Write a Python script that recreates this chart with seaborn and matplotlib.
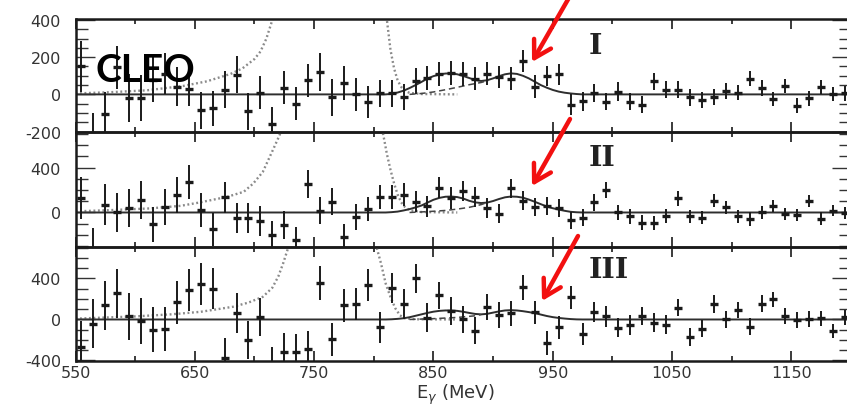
import numpy as np
import matplotlib
matplotlib.use("Agg")
import matplotlib.pyplot as plt
import seaborn as sns
from matplotlib.ticker import FixedLocator, MultipleLocator

sns.set_style("ticks")
plt.rcParams['font.family'] = ['DejaVu Sans']
plt.rcParams['axes.unicode_minus'] = False

# ---------------- data ----------------
energy = np.arange(555, 1200, 10)  # photon-energy bin centres (MeV)

p1_y = [150, -250, -105, 145, -20, -20, 80, 110, 40, 30,
        -85, -75, 25, 105, -90, 10, -160, 35, -50, 75,
        120, -15, 60, 0, -40, 5, 5, -15, 70, 90,
        110, 115, 110, 85, 112, 92, 85, 178, 42, 98,
        108, -55, -38, 8, -40, 15, -40, -55, 70, 25,
        25, -15, -30, -15, 18, 10, 85, 35, -25, 45,
        -60, -20, 40, 0, 5]
p1_err = [135, 150, 120, 115, 130, 125, 120, 110, 105, 95,
          100, 95, 100, 100, 100, 90, 90, 88, 88, 90,
          100, 100, 90, 90, 85, 75, 75, 70, 70, 65,
          65, 65, 65, 60, 60, 60, 60, 60, 60, 55,
          55, 55, 50, 50, 45, 50, 45, 45, 45, 45,
          45, 45, 45, 42, 42, 42, 42, 42, 40, 40,
          40, 40, 40, 38, 38]

p2_y = [130, -330, 70, 0, 40, 110, -105, 50, 155, 270,
        20, -150, 135, -50, -50, -75, -200, -115, -245, 250,
        15, 95, -215, -40, 30, 138, 138, 160, 95, 54,
        222, 130, 193, 138, 42, -10, 215, 105, 50, 60,
        42, -68, -48, 89, 200, 0, -35, -90, -95, -30,
        125, -35, -45, 105, 45, -35, -60, 0, 55, -15,
        -25, 105, -55, 15, -5]
p2_err = [185, 190, 180, 175, 170, 170, 155, 160, 160, 150,
          150, 145, 140, 135, 135, 130, 125, 125, 120, 125,
          120, 120, 115, 115, 110, 105, 105, 100, 95, 95,
          95, 95, 90, 90, 90, 85, 85, 85, 80, 80,
          80, 75, 75, 75, 70, 70, 65, 65, 65, 65,
          65, 60, 60, 60, 60, 60, 60, 55, 55, 55,
          55, 55, 55, 50, 50]

p3_y = [-265, -40, 140, 255, 30, -15, -100, -90, 170, 290,
        350, 300, -380, 60, -200, 20, -450, -315, -315, -285,
        355, -195, 140, 150, 335, -75, 305, 150, 400, 18,
        235, 85, 0, -110, 122, 45, 60, 312, 70, -230,
        -78, 215, -140, 75, 30, -80, -55, 35, -30, -50,
        115, -170, -90, 150, 0, 90, -70, 155, 195, 35,
        -5, 5, 10, -115, 20]
p3_err = [250, 240, 240, 240, 230, 225, 220, 215, 210, 205,
          205, 200, 195, 195, 190, 185, 185, 180, 175, 170,
          165, 160, 160, 155, 155, 150, 145, 145, 140, 140,
          135, 135, 130, 130, 125, 125, 120, 120, 115, 115,
          110, 110, 105, 100, 100, 95, 95, 90, 90, 90,
          85, 85, 85, 85, 80, 80, 80, 80, 75, 75,
          75, 75, 70, 70, 70]

# fitted curves
fit_x = [550, 810, 815, 820, 825, 830, 835, 840, 845, 850, 855, 860, 865, 870,
         875, 880, 885, 890, 895, 900, 905, 910, 915, 920, 925, 930, 935, 940,
         945, 950, 955, 960, 965, 970, 975, 1200]
fit1 = [0, 0, 3, 10, 20, 34, 50, 67, 85, 98, 107, 112, 113, 108, 99, 88, 77, 72,
        76, 86, 98, 108, 113, 110, 100, 86, 68, 50, 36, 24, 15, 9, 5, 2, 0, 0]
fit2 = [0, 0, 3, 8, 18, 30, 45, 62, 88, 113, 130, 140, 142, 137, 124, 104, 90, 84,
        88, 102, 120, 135, 142, 140, 132, 115, 95, 74, 53, 38, 26, 15, 6, 2, 0, 0]
fit3 = [0, 0, 2, 6, 12, 22, 36, 50, 64, 76, 84, 88, 88, 84, 75, 64, 54, 50,
        55, 67, 79, 88, 91, 88, 81, 72, 62, 48, 34, 23, 15, 9, 4, 1, 0, 0]

dash1_x = [830, 840, 850, 860, 870, 880, 890, 896]
dash1 = [0, 5, 13, 25, 38, 52, 64, 75]
dash2_x = [830, 840, 850, 860, 870, 880, 890, 894]
dash2 = [0, 5, 11, 18, 30, 46, 70, 85]
dash3_x = [830, 850, 870, 885, 890]
dash3 = [0, 8, 20, 36, 48]

dotL1_x = [550, 580, 610, 640, 660, 680, 690, 700, 705, 710, 715, 720]
dotL1 = [5, 12, 22, 45, 70, 110, 140, 190, 230, 300, 400, 520]
dotR1_x = [806, 808, 811, 814, 817, 820, 823, 826, 830, 840, 870]
dotR1 = [620, 500, 400, 240, 140, 75, 40, 20, 8, 2, 0]

dotL2_x = [550, 579, 612, 638, 654, 677, 691, 699, 707, 716, 721, 724]
dotL2 = [10, 21, 36, 59, 89, 139, 184, 258, 361, 569, 687, 780]
dotR2_x = [805, 808, 811, 814, 817, 820, 823, 826, 830, 840, 870]
dotR2 = [780, 690, 520, 380, 260, 160, 90, 50, 20, 4, 0]

dotL3_x = [550, 600, 630, 655, 682, 695, 707, 715, 720, 724, 728, 731]
dotL3 = [8, 30, 50, 75, 124, 165, 221, 310, 420, 546, 690, 780]
dotR3_x = [800, 802, 806, 810, 814, 818, 822, 826, 835, 870]
dotR3 = [780, 720, 550, 350, 220, 110, 40, 12, 2, 0]

xticks_major = [550, 650, 750, 850, 950, 1050, 1150]
panel_names = ["I", "II", "III"]

# ---------------- figure ----------------
W, H = 847, 406
fig = plt.figure(figsize=(W / 100, H / 100), dpi=100)

def fx(px):
    return px / W

def fy(py):
    return 1 - py / H

left, right = 75.5, 851.0
panels = [(20, 133), (133, 248), (248, 362)]
axes = []
for top, bot in panels:
    ax = fig.add_axes([fx(left), fy(bot), fx(right - left), (bot - top) / H])
    axes.append(ax)

ylims = [(-202, 405), (-307, 716), (-405, 707)]
ymajor = [[-200, 0, 200, 400], [0, 400], [-400, 0, 400]]
yminor = [50, 100, 100]
ys = [p1_y, p2_y, p3_y]
errs = [p1_err, p2_err, p3_err]
fits = [fit1, fit2, fit3]
dashes_ = [(dash1_x, dash1), (dash2_x, dash2), (dash3_x, dash3)]
dotsL = [(dotL1_x, dotL1), (dotL2_x, dotL2), (dotL3_x, dotL3)]
dotsR = [(dotR1_x, dotR1), (dotR2_x, dotR2), (dotR3_x, dotR3)]
name_base = [54, 166, 278]

ink = '#1a1a1a'
for i, ax in enumerate(axes):
    # dotted background curves
    for (dx, dy) in (dotsL[i], dotsR[i]):
        sns.lineplot(x=dx, y=dy, ax=ax, color='#8a8a8a', lw=1.7,
                     linestyle=(0, (0.8, 1.1)), zorder=1, sort=False)
    # full fit (solid) and partial (dashed)
    sns.lineplot(x=fit_x, y=fits[i], ax=ax, color='#2e2e2e', lw=1.4, zorder=2, sort=False)
    sns.lineplot(x=dashes_[i][0], y=dashes_[i][1], ax=ax, color='#444444', lw=1.1,
                 linestyle=(0, (4, 2.5)), zorder=2, sort=False)
    # data points with errors
    ax.errorbar(energy, ys[i], yerr=errs[i], fmt='_', color=ink, ecolor=ink,
                elinewidth=1.4, ms=5.2, mew=2.4, capsize=0, zorder=3)

    ax.set_xlim(550, 1200)
    ax.set_ylim(*ylims[i])
    ax.xaxis.set_major_locator(FixedLocator(xticks_major))
    ax.xaxis.set_minor_locator(MultipleLocator(50))
    ax.yaxis.set_major_locator(FixedLocator(ymajor[i]))
    ax.yaxis.set_minor_locator(MultipleLocator(yminor[i]))
    ax.tick_params(axis='x', which='both', direction='in', top=True, bottom=True,
                   color=ink, width=1.2)
    ax.tick_params(axis='x', which='major', length=7, pad=3)
    ax.tick_params(axis='x', which='minor', length=3.6)
    ax.tick_params(axis='y', which='both', direction='in', left=True, right=True,
                   color='#333', width=1.0)
    ax.tick_params(axis='y', which='major', length=14, pad=10.5)
    ax.tick_params(axis='y', which='minor', length=8.5)
    ax.tick_params(axis='both', labelsize=11.5, labelcolor='#333')
    for s in ax.spines.values():
        s.set_linewidth(1.8)
        s.set_color(ink)
    ax.set_xlabel('')
    ax.set_ylabel('')
    if i < 2:
        ax.tick_params(axis='x', labelbottom=False)
    ax.patch.set_alpha(0)

    fig.text(fx(589), fy(name_base[i]), panel_names[i], family='DejaVu Serif',
             fontweight='bold', fontsize=20.5, color='#222', ha='left', va='baseline')

axes[2].set_xlabel(r'E$_\gamma$ (MeV)', fontsize=13, color='#333')
axes[2].xaxis.set_label_coords((455 - left) / (right - left), -0.185)

fig.text(fx(145), fy(82), 'CLEO', family='Lato', fontweight='bold', fontsize=28,
         color='black', ha='center', va='baseline')

# red arrows pointing at the 920 MeV peak
overlay = fig.add_axes([0, 0, 1, 1])
overlay.set_xlim(0, W)
overlay.set_ylim(H, 0)
overlay.axis('off')
arrow_tips = [(532, 63), (532, 187), (542, 302)]
arrow_tails = [(574, -10), (570, 120), (578, 237)]
for tail, tip in zip(arrow_tails, arrow_tips):
    overlay.annotate('', xy=tip, xytext=tail,
                     arrowprops=dict(arrowstyle='->,head_length=12,head_width=7',
                                     mutation_scale=1, color='#f21010', lw=3.2,
                                     shrinkA=0, shrinkB=0, capstyle='round',
                                     joinstyle='round'))

fig.savefig('out.png', dpi=100, facecolor='white')
